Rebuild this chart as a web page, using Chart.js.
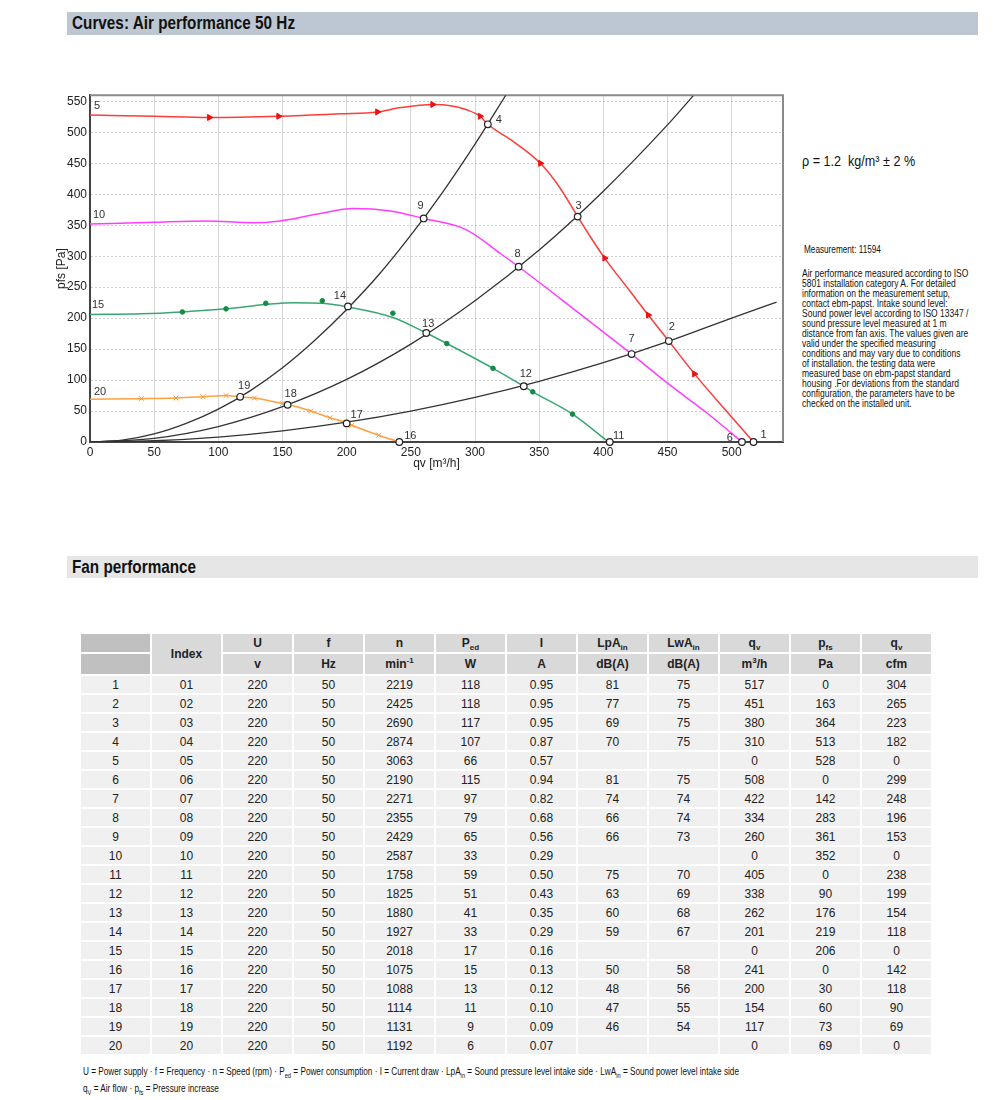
<!DOCTYPE html>
<html>
<head>
<meta charset="utf-8">
<script src="https://cdn.jsdelivr.net/npm/chart.js@4.4.0/dist/chart.umd.min.js"></script>
<style>
  body { margin: 0; width: 1000px; height: 1100px; background: #fff; position: relative;
         font-family: "Liberation Sans", Arial, sans-serif; color: #111; }
  .sx { display: inline-block; transform-origin: left center; white-space: nowrap; }
  .bar { position: absolute; left: 67px; width: 911px; padding-left: 5px; box-sizing: border-box;
         font-weight: bold; font-size: 18px; }
  .bar .sx { transform: scaleX(0.85); }
  #bar1 { top: 12px; height: 23px; line-height: 23px; background: #bcc7d3; }
  #bar2 { top: 556px; height: 22px; line-height: 22px; background: #e6e6e6; }
  #chartBox { position: absolute; left: 40px; top: 85px; width: 760px; height: 400px; }
  .note { position: absolute; left: 802px; color: #111; transform-origin: left top; white-space: pre; }
  #rho { top: 152px; font-size: 15px; transform: scaleX(0.84); }
  #meas { top: 244px; left: 804px; font-size: 10px; transform: scaleX(0.82); }
  #para { top: 268px; font-size: 10.5px; line-height: 10px; transform: scaleX(0.81); }
  #tbl { position: absolute; left: 79px; top: 632px; width: 854px; border-collapse: separate; border-spacing: 2px;
         table-layout: fixed; font-size: 12px; color: #222; }
  #tbl th, #tbl td { text-align: center; padding: 0; }
  #tbl th { background: #d9d9d9; font-weight: bold; }
  #tbl th.dark { background: #c0c0c0; }
  #tbl tr.h1 th { height: 18px; }
  #tbl tr.h2 th { height: 20px; }
  #tbl td { background: #f0f0f0; height: 17px; }
  #tbl sub, #tbl sup { font-size: 8px; line-height: 0; }
  #foot { position: absolute; left: 83px; top: 1063px; font-size: 10px; line-height: 17px; color: #111;
          transform: scaleX(0.82); transform-origin: left top; white-space: nowrap; }
  #foot sub { font-size: 7px; line-height: 0; }
</style>
</head>
<body>
<div class="bar" id="bar1"><span class="sx">Curves: Air performance 50 Hz</span></div>
<div id="chartBox"><canvas id="chart"></canvas></div>
<div class="note" id="rho">ρ = 1.2&nbsp; kg/m³ ± 2 %</div>
<div class="note" id="meas">Measurement: 11594</div>
<div class="note" id="para">Air performance measured according to ISO
5801 installation category A. For detailed
information on the measurement setup,
contact ebm-papst. Intake sound level:
Sound power level according to ISO 13347 /
sound pressure level measured at 1 m
distance from fan axis. The values given are
valid under the specified measuring
conditions and may vary due to conditions
of installation. the testing data were
measured base on ebm-papst standard
housing .For deviations from the standard
configuration, the parameters have to be
checked on the installed unit.</div>

<div class="bar" id="bar2"><span class="sx">Fan performance</span></div>
<table id="tbl"></table>
<div id="foot">U = Power supply · f = Frequency · n = Speed (rpm) · P<sub>ed</sub> = Power consumption · I = Current draw · LpA<sub>in</sub> = Sound pressure level intake side · LwA<sub>in</sub> = Sound power level intake side<br>q<sub>V</sub> = Air flow · p<sub>fs</sub> = Pressure increase</div>

<script>
// ---- operating points (table) ----
const idxLabels = ["01","02","03","04","05","06","07","08","09","10","11","12","13","14","15","16","17","18","19","20"];
const voltage = 220;
const freq = 50;
const speed = [2219, 2425, 2690, 2874, 3063, 2190, 2271, 2355, 2429, 2587, 1758, 1825, 1880, 1927, 2018, 1075, 1088, 1114, 1131, 1192];
const power = [118, 118, 117, 107, 66, 115, 97, 79, 65, 33, 59, 51, 41, 33, 17, 15, 13, 11, 9, 6];
const current = ["0.95","0.95","0.95","0.87","0.57","0.94","0.82","0.68","0.56","0.29","0.50","0.43","0.35","0.29","0.16","0.13","0.12","0.10","0.09","0.07"];
const lpa = [81, 77, 69, 70, "", 81, 74, 66, 66, "", 75, 63, 60, 59, "", 50, 48, 47, 46, ""];
const lwa = [75, 75, 75, 75, "", 75, 74, 74, 73, "", 70, 69, 68, 67, "", 58, 56, 55, 54, ""];
const qv = [517, 451, 380, 310, 0, 508, 422, 334, 260, 0, 405, 338, 262, 201, 0, 241, 200, 154, 117, 0];
const pfs = [0, 163, 364, 513, 528, 0, 142, 283, 361, 352, 0, 90, 176, 219, 206, 0, 30, 60, 73, 69];
const cfm = [304, 265, 223, 182, 0, 299, 248, 196, 153, 0, 238, 199, 154, 118, 0, 142, 118, 90, 69, 0];

// ---- characteristic curves ----
const redQ = [0, 50, 93, 147, 195, 224, 242, 267, 281, 294, 304, 310, 330, 351, 366, 380, 390, 401, 421, 435, 451, 471, 495, 517];
const redP = [528, 526, 524, 526, 530, 533, 540, 545, 543, 536, 526, 513, 485, 450, 411, 364, 331, 297, 243, 205, 163, 110, 52, 0];
const redMarkQ = [93, 147, 224, 267, 304, 351, 401, 435, 471];
const redMarkP = [524, 526, 533, 545, 526, 450, 297, 205, 110];

const magQ = [0, 50, 91, 127, 148, 177, 205, 234, 260, 293, 320, 334, 378, 422, 450, 480, 500, 508];
const magP = [352, 355, 357, 354, 357, 368, 377, 373, 361, 343, 304, 283, 213, 142, 95, 48, 14, 0];

const grnQ = [0, 40, 72, 106, 137, 159, 181, 201, 236, 262, 278, 314, 338, 345, 376, 404];
const grnP = [206, 207, 210, 215, 222, 225, 224, 218, 201, 176, 159, 119, 90, 81, 45, 0];
const grnMarkQ = [72, 106, 137, 181, 236, 278, 314, 345, 376];
const grnMarkP = [210, 215, 224, 228, 208, 159, 119, 81, 45];

const orgQ = [0, 40, 67, 88, 106, 117, 128, 150, 155, 172, 187, 200, 204, 225, 241];
const orgP = [69, 70, 71, 73, 75, 73, 71, 62, 60, 50, 39, 31, 27, 11, 0];
const orgMarkQ = [40, 67, 88, 106, 128, 150, 172, 187, 204, 225];
const orgMarkP = [70, 71, 73, 75, 71, 62, 50, 39, 27, 11];

// system resistance curves
const sysAQ = [0, 25, 50, 75, 100, 125, 150, 175, 200, 225, 250, 275, 300, 324];
const sysAP = [0, 3, 13, 30, 53, 83, 120, 164, 214, 270, 334, 404, 481, 560];
const sysBQ = [0, 50, 100, 150, 200, 250, 300, 350, 400, 450, 470];
const sysBP = [0, 6, 25, 57, 101, 158, 228, 310, 405, 512, 559];
const sysCQ = [0, 50, 100, 150, 200, 250, 300, 350, 400, 450, 500, 535];
const sysCP = [0, 2, 8, 18, 32, 50, 72, 98, 128, 162, 200, 226];

// label offsets (px) for the point numbers
const labelDx = [10, 3, 1, 11, 7, -12, 0, -1, -3, 9, 9, 2, 2, -8, 8, 11, 10, 3, 4, 10];
const labelDy = [-7, -14, -11, -4, -9, -4, -15, -13, -12, -9, -6, -12, -9, -10, -9, -6, -8, -11, -11, -7];

// ---- table ----
const tbl = document.getElementById("tbl");
let html = '<tr class="h1"><th class="dark"></th><th rowspan="2">Index</th><th>U</th><th>f</th><th>n</th><th>P<sub>ed</sub></th><th>I</th>' +
  '<th>LpA<sub>in</sub></th><th>LwA<sub>in</sub></th><th>q<sub>v</sub></th><th>p<sub>fs</sub></th><th>q<sub>v</sub></th></tr>' +
  '<tr class="h2"><th class="dark"></th><th>v</th><th>Hz</th><th>min<sup>-1</sup></th><th>W</th><th>A</th><th>dB(A)</th><th>dB(A)</th>' +
  '<th>m<sup>3</sup>/h</th><th>Pa</th><th>cfm</th></tr>';
idxLabels.forEach((lab, i) => {
  const cells = [i + 1, lab, voltage, freq, speed[i], power[i], current[i], lpa[i], lwa[i], qv[i], pfs[i], cfm[i]];
  html += "<tr>" + cells.map(c => "<td>" + c + "</td>").join("") + "</tr>";
});
tbl.innerHTML = html;

// ---- chart ----
Chart.defaults.font.family = "'Liberation Sans', Arial, sans-serif";
Chart.defaults.color = "#222";

function pts(qs, ps) { return qs.map((q, i) => ({ x: q, y: ps[i] })); }

function curve(qs, ps, color, width) {
  return { data: pts(qs, ps), showLine: true, borderColor: color, borderWidth: width, pointRadius: 0,
           cubicInterpolationMode: "monotone", order: 3 };
}
function marks(qs, ps, color, style, rot, r) {
  return { data: pts(qs, ps), showLine: false, pointStyle: style, pointRotation: rot, pointRadius: r,
           pointBackgroundColor: color, pointBorderColor: color, pointBorderWidth: 1, order: 2 };
}

const opPts = [];
qv.forEach((q, i) => { if (q > 0) opPts.push({ x: q, y: pfs[i] }); });

const framePlugin = {
  id: "frame",
  beforeDatasetsDraw(chart) {
    const a = chart.chartArea, c = chart.ctx;
    c.save();
    c.strokeStyle = "#8a8a8a";
    c.lineWidth = 2;
    c.beginPath();
    c.moveTo(a.left, a.top); c.lineTo(a.right, a.top); c.lineTo(a.right, a.bottom);
    c.stroke();
    c.restore();
  },
  afterDatasetsDraw(chart) {
    const c = chart.ctx, xs = chart.scales.x, ys = chart.scales.y;
    c.save();
    c.font = "11px 'Liberation Sans', Arial, sans-serif";
    c.fillStyle = "#333";
    c.textAlign = "center";
    c.textBaseline = "middle";
    idxLabels.forEach((lab, i) => {
      const px = xs.getPixelForValue(qv[i]) + labelDx[i];
      const py = ys.getPixelForValue(pfs[i]) + labelDy[i];
      c.fillText(String(i + 1), px, py);
    });
    c.restore();
  }
};

new Chart(document.getElementById("chart").getContext("2d"), {
  type: "scatter",
  data: {
    datasets: [
      { data: opPts, showLine: false, pointRadius: 3.3, pointBackgroundColor: "#fff", pointBorderColor: "#222",
        pointBorderWidth: 1.2, clip: 8, order: 0 },
      marks(redMarkQ, redMarkP, "#ee1111", "triangle", 90, 3.5),
      marks(grnMarkQ, grnMarkP, "#138a45", "circle", 0, 2.3),
      marks(orgMarkQ, orgMarkP, "#ff9933", "crossRot", 0, 3.5),
      curve(redQ, redP, "#ff3b3b", 1.5),
      curve(magQ, magP, "#ff3dff", 1.5),
      curve(grnQ, grnP, "#3aa673", 1.5),
      curve(orgQ, orgP, "#ffa040", 1.5),
      curve(sysAQ, sysAP, "#333", 1.3),
      curve(sysBQ, sysBP, "#333", 1.3),
      curve(sysCQ, sysCP, "#333", 1.3)
    ]
  },
  options: {
    responsive: true,
    maintainAspectRatio: false,
    animation: false,
    layout: { padding: { top: 10, right: 17, left: 0, bottom: 0 } },
    plugins: { legend: { display: false }, tooltip: { enabled: false } },
    scales: {
      x: {
        type: "linear", min: 0, max: 540,
        afterFit(s) { s.height = 43; },
        ticks: { stepSize: 50, includeBounds: false, padding: 3, font: { size: 12 }, color: "#222" },
        grid: { color: "#d6d6d6", drawTicks: false },
        border: { color: "#444", width: 2 },
        title: { display: true, text: "qv [m³/h]", font: { size: 12 }, color: "#222", padding: 14 }
      },
      y: {
        type: "linear", min: 0, max: 560,
        afterFit(s) { s.width = 50; },
        ticks: { stepSize: 50, includeBounds: false, padding: 3, font: { size: 12 }, color: "#222" },
        grid: { color: "#cfcfcf", drawTicks: false },
        border: { color: "#444", width: 2, dash: [2, 2] },
        title: { display: true, text: "pfs [Pa]", font: { size: 12 }, color: "#222", padding: 14 }
      }
    }
  },
  plugins: [framePlugin]
});
</script>
</body>
</html>
